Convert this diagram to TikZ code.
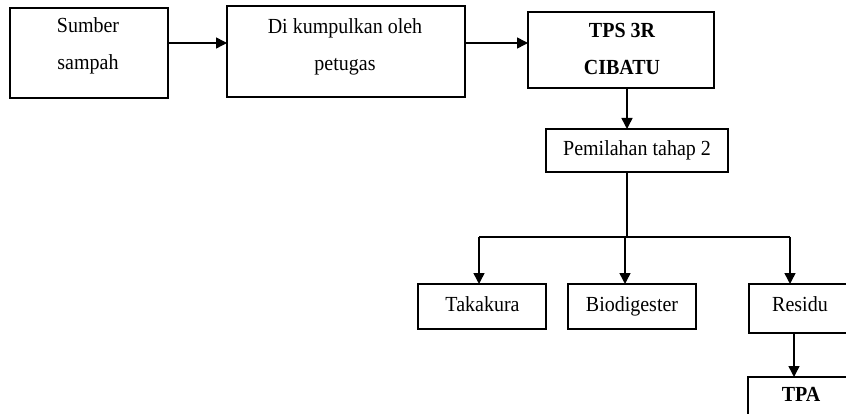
\documentclass[tikz,border=0pt]{standalone}
\usepackage{fontspec}
\setmainfont{Liberation Serif}[FakeStretch=0.93]
\usetikzlibrary{arrows.meta}

\begin{document}
\begin{tikzpicture}[x=1pt,y=-1pt,
  box/.style={draw,line width=1.4pt,minimum width=#1,inner sep=0pt,outer sep=0pt},
  txt/.style={align=center,inner sep=0pt,font=\fontsize{21.5}{37}\selectfont},
  btxt/.style={txt,font=\fontsize{21.5}{37}\selectfont\bfseries},
  line/.style={line width=1.5pt},
  arr/.style={line,-{Triangle[length=11pt,width=11pt]}}]
  \clip (0,0) rectangle (846,414);
  \fill[white] (0,0) rectangle (846,414);

  % boxes
  \node[box=158pt,minimum height=90pt] (src) at (89,53) {};
  \node[box=238pt,minimum height=91pt] (col) at (346,51.5) {};
  \node[box=186pt,minimum height=76pt] (tps) at (621,50) {};
  \node[box=182pt,minimum height=43pt] (pil) at (637,150.5) {};
  \node[box=128pt,minimum height=45pt] (tak) at (482,306.5) {};
  \node[box=128pt,minimum height=45pt] (bio) at (632,306.5) {};
  \node[box=102pt,minimum height=49pt] (res) at (800,308.5) {};
  \node[box=106pt,minimum height=48pt] (tpa) at (801,401) {};

  % labels
  \node[txt]  (srcT) at (88,43.6)   {Sumber\strut\\sampah\strut};
  \node[txt]  (colT) at (345,45)    {Di kumpulkan oleh\strut\\petugas\strut};
  \node[btxt] (tpsT) at (622,49)    {TPS 3R\strut\\CIBATU\strut};
  \node[txt]  (pilT) at (637,148.6) {Pemilahan tahap 2\strut};
  \node[txt]  (takT) at (482.5,304) {Takakura\strut};
  \node[txt]  (bioT) at (632,304)   {Biodigester\strut};
  \node[txt]  (resT) at (800,304.5) {Residu\strut};
  \node[btxt] (tpaT) at (801,393.6) {TPA\strut};

  % horizontal flow
  \draw[arr] ([yshift=10pt]src.east) -- ([yshift=10pt]src.east -| col.west);
  \draw[arr] ([yshift=8.5pt]col.east) -- ([yshift=8.5pt]col.east -| tps.west);
  \draw[arr] ([xshift=6pt]tps.south) -- ([xshift=6pt]tps.south |- pil.north);

  % branching
  \coordinate (busL) at (479,237);
  \coordinate (busM) at (625,237);
  \coordinate (busR) at (790,237);
  \draw[line] ([xshift=-10pt]pil.south) -- ([xshift=-10pt]pil.south |- busL);
  \draw[line] (busL) -- (busR);
  \draw[arr] (busL) -- (busL |- tak.north);
  \draw[arr] (busM) -- (busM |- bio.north);
  \draw[arr] (busR) -- (busR |- res.north);
  \draw[arr] ([xshift=-6pt]res.south) -- ([xshift=-6pt]res.south |- tpa.north);
\end{tikzpicture}
\end{document}
